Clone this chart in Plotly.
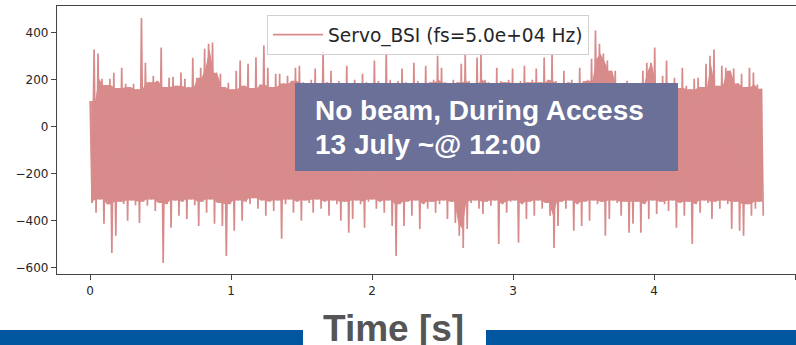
import numpy as np
import plotly.graph_objects as go

# Servo_BSI signal, summarised per 28 ms block as the max / min sample of the block
fs_hz = 5.0e4
block_s = 0.028
upper = [
    110, 329, 312, 205, 178, 205, 230, 165, 252, 183, 170, 183, 160, 464, 273, 190,
    218, 196, 338, 170, 209, 213, 175, 231, 205, 168, 294, 209, 252, 333, 354, 359,
    231, 226, 170, 188, 160, 239, 282, 175, 269, 165, 296, 180, 346, 252, 170, 226,
    226, 185, 218, 196, 252, 260, 190, 178, 200, 248, 185, 324, 190, 239, 175, 195,
    180, 260, 185, 200, 178, 226, 190, 185, 282, 195, 180, 316, 200, 185, 195, 248,
    190, 180, 273, 195, 185, 260, 190, 200, 303, 252, 190, 185, 200, 190, 269, 312,
    195, 185, 295, 316, 200, 190, 185, 252, 195, 190, 200, 248, 185, 195, 260, 190,
    200, 248, 190, 295, 200, 312, 195, 185, 239, 190, 200, 185, 252, 195, 200, 290,
    410, 354, 312, 282, 239, 239, 175, 165, 196, 170, 160, 175, 239, 273, 273, 338,
    185, 218, 282, 170, 209, 165, 252, 175, 160, 205, 209, 170, 269, 303, 329, 175,
    260, 252, 239, 248, 185, 226, 170, 252, 231, 180, 162,
]
lower = [
    -325, -367, -310, -414, -330, -538, -465, -320, -329, -401, -315, -335, -410, -320, -337, -310,
    -359, -325, -581, -330, -431, -315, -380, -320, -393, -310, -335, -423, -320, -367, -310, -414,
    -325, -423, -551, -330, -444, -315, -401, -320, -329, -305, -350, -315, -380, -320, -359, -315,
    -478, -330, -310, -367, -320, -401, -315, -325, -367, -310, -350, -320, -380, -315, -330, -401,
    -320, -452, -393, -315, -330, -431, -320, -310, -350, -320, -367, -315, -423, -551, -330, -423,
    -320, -380, -315, -436, -330, -350, -320, -367, -330, -315, -393, -320, -410, -465, -517, -436,
    -325, -315, -350, -372, -320, -337, -315, -500, -330, -367, -320, -315, -495, -330, -393, -320,
    -380, -315, -350, -325, -380, -517, -423, -320, -350, -315, -444, -330, -423, -320, -401, -315,
    -330, -320, -465, -393, -315, -325, -380, -320, -452, -414, -320, -452, -330, -393, -315, -372,
    -320, -330, -359, -315, -431, -325, -380, -320, -500, -330, -367, -315, -325, -393, -320, -350,
    -315, -330, -436, -320, -444, -465, -330, -380, -350, -320, -380,
]
x_ticks = [0, 1, 2, 3, 4, 5]
y_ticks = [400, 200, 0, -200, -400, -600]

series_name = f"Servo_BSI (fs={fs_hz:.1e} Hz)"
note_lines = ["No beam, During Access", "13 July ~@ 12:00"]
x_title = "Time [s]"

up = np.array(upper, dtype=float)
lo = np.array(lower, dtype=float)
t_blocks = np.arange(len(up)) * block_s

# interleave block max and min so the trace zig-zags like the raw signal
t = np.empty(2 * len(up))
y = np.empty(2 * len(up))
t[0::2] = t_blocks
t[1::2] = t_blocks + block_s / 2
y[0::2] = up
y[1::2] = lo

# the densely packed samples form a solid band; its edges are the local
# (3-block) minimum of the maxima and maximum of the minima
pad_up = np.pad(up, 1, mode="edge")
pad_lo = np.pad(lo, 1, mode="edge")
band_hi = np.minimum(np.minimum(pad_up[:-2], pad_up[1:-1]), pad_up[2:])
band_lo = np.maximum(np.maximum(pad_lo[:-2], pad_lo[1:-1]), pad_lo[2:])
t_band = t_blocks + block_s / 4

W, H = 796, 345
L, R, T, B = 57, 0, 6, 71
PW, PH = W - L - R, H - T - B


def px(xp):
    return (xp - L) / PW


def py(yp):
    return (H - B - yp) / PH


line_col = "#d88b8b"
fig = go.Figure()
fig.add_trace(go.Scatter(
    x=t_band, y=band_lo, mode="lines", line=dict(width=0, color=line_col),
    showlegend=False, hoverinfo="skip",
))
fig.add_trace(go.Scatter(
    x=t_band, y=band_hi, mode="lines", line=dict(width=0, color=line_col),
    fill="tonexty", fillcolor=line_col, showlegend=False, hoverinfo="skip",
))
fig.add_trace(go.Scatter(
    x=t, y=y, mode="lines", name=series_name,
    line=dict(color=line_col, width=1.7),
    showlegend=True,
))

axis_font = dict(family="DejaVu Sans", size=12, color="#262626")
fig.update_layout(
    width=W, height=H,
    margin=dict(l=L, r=R, t=T, b=B, pad=0),
    paper_bgcolor="white", plot_bgcolor="white",
    showlegend=True,
    legend=dict(
        x=px(267), y=py(15), xanchor="left", yanchor="top",
        bgcolor="rgba(255,255,255,0.85)", bordercolor="#d0d0d0", borderwidth=1,
        font=dict(family="DejaVu Sans", size=18.6, color="#262626"),
        itemwidth=50,
    ),
    xaxis=dict(
        range=[-0.235, 5.006], tickvals=x_ticks, ticktext=[str(v) for v in x_ticks],
        showgrid=False, zeroline=False, showline=True, linecolor="#444", linewidth=1.2,
        mirror=True, ticks="outside", ticklen=5, tickcolor="#444", tickfont=axis_font,
    ),
    yaxis=dict(
        range=[-628, 515], tickvals=y_ticks,
        ticktext=[str(v).replace("-", "\u2212") for v in y_ticks],
        showgrid=False, zeroline=False, showline=True, linecolor="#444", linewidth=1.2,
        ticks="outside", ticklen=5, tickcolor="#444", tickfont=axis_font,
    ),
)

shapes = [
    # overlay note box
    dict(type="rect", xref="paper", yref="paper", x0=px(295), x1=px(678),
         y0=py(171), y1=py(83), fillcolor="#6b7098", line=dict(width=0), layer="above"),
    # blue footer bars
    dict(type="rect", xref="paper", yref="paper", x0=px(0), x1=px(303),
         y0=py(345), y1=py(330), fillcolor="#0057a0", line=dict(width=0), layer="above"),
    dict(type="rect", xref="paper", yref="paper", x0=px(486), x1=px(796),
         y0=py(345), y1=py(330), fillcolor="#0057a0", line=dict(width=0), layer="above"),
]
fig.update_layout(shapes=shapes)

note_font = dict(family="Liberation Sans", size=28, color="white")
annotations = [
    dict(text=f"<b>{note_lines[0]}</b>", xref="paper", yref="paper", x=px(313), y=py(111),
         xanchor="left", yanchor="middle", showarrow=False, font=note_font),
    dict(text=f"<b>{note_lines[1]}</b>", xref="paper", yref="paper", x=px(313), y=py(144),
         xanchor="left", yanchor="middle", showarrow=False, font=note_font),
    dict(text=f"<b>{x_title}</b>", xref="paper", yref="paper", x=px(393), y=py(328),
         xanchor="center", yanchor="middle", showarrow=False,
         font=dict(family="Liberation Sans", size=37, color="#555555")),
]
fig.update_layout(annotations=annotations)

fig.write_html("out.html")
